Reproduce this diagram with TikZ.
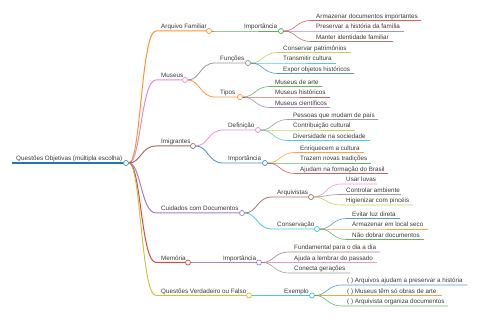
\documentclass[tikz,border=0pt]{standalone}
\usepackage{fontspec}
\setmainfont{Liberation Sans}
\definecolor{cA}{HTML}{1F77B4}
\definecolor{cB}{HTML}{FF7F0E}
\definecolor{cC}{HTML}{2CA02C}
\definecolor{cD}{HTML}{D62728}
\definecolor{cE}{HTML}{9467BD}
\definecolor{cF}{HTML}{8C564B}
\definecolor{cG}{HTML}{E377C2}
\definecolor{cH}{HTML}{7F7F7F}
\definecolor{cI}{HTML}{BCBD22}
\definecolor{cJ}{HTML}{17BECF}
\definecolor{txt}{HTML}{3A3A3A}
\tikzset{
  lbl/.style={anchor=base west, inner sep=0pt, text=txt, font=\fontsize{6.3}{7}\selectfont},
  dot/.style={circle, fill=white, line width=0.7pt, minimum size=5pt, inner sep=0pt, draw opacity=0.85},
  leafline/.style={line width=0.6pt, draw opacity=0.75},
  midline/.style={line width=0.8pt, draw opacity=0.8},
  topline/.style={line width=1pt, draw opacity=0.85}
}
% inner node: name, parent, color, startx, y, circlex, width style, text
\newcommand\mminner[8]{%
  \coordinate (#1s) at (#4,#5);
  \node[lbl] (#1t) at (#4+5,#5-2) {#8};
  \node[dot, draw=#3] (#1c) at (#6,#5) {};
  \draw[#3, #7] (#2c) .. controls +(15,0) and +(-15,0) .. (#1s) -- (#1c);
}
% leaf: name, parent, color, startx, y, endx, text
\newcommand\mmleaf[7]{%
  \coordinate (#1s) at (#4,#5);
  \coordinate (#1e) at (#6,#5);
  \node[lbl] (#1t) at (#4+5,#5-2) {#7};
  \draw[#3, leafline] (#2c) .. controls +(15,0) and +(-15,0) .. (#1s) -- (#1e);
}
\begin{document}
\begin{tikzpicture}[x=1pt, y=-1pt]
\useasboundingbox (0,0) rectangle (480,320);
% root
\coordinate (Rs) at (12,163);
\node[lbl] (Rt) at (16,161) {Questões Objetivas (múltipla escolha)};
\node[dot, draw=cA] (Rc) at (126,163) {};
\draw[cA, line width=1.2pt] (Rs) -- (Rc);

% Arquivo Familiar
\mminner{AF}{R}{cB}{156}{31}{209}{topline}{Arquivo Familiar}
\mminner{AFi}{AF}{cC}{239}{31}{281}{midline}{Importância}
\mmleaf{AFa}{AFi}{cD}{311}{20.5}{421}{Armazenar documentos importantes}
\mmleaf{AFb}{AFi}{cE}{311}{31}{404}{Preservar a história da família}
\mmleaf{AFc}{AFi}{cF}{311}{41.5}{393}{Manter identidade familiar}

% Museus
\mminner{MU}{R}{cG}{156}{80}{185}{topline}{Museus}
\mminner{MUf}{MU}{cH}{215}{63}{248}{midline}{Funções}
\mmleaf{MUfa}{MUf}{cI}{278}{52.5}{351}{Conservar patrimônios}
\mmleaf{MUfb}{MUf}{cJ}{278}{63}{336}{Transmitir cultura}
\mmleaf{MUfc}{MUf}{cA}{278}{73.5}{354}{Expor objetos históricos}
\mminner{MUt}{MU}{cB}{215}{97}{240}{midline}{Tipos}
\mmleaf{MUta}{MUt}{cC}{270}{86.5}{322}{Museus de arte}
\mmleaf{MUtb}{MUt}{cD}{270}{97}{330}{Museus históricos}
\mmleaf{MUtc}{MUt}{cE}{270}{107.5}{330}{Museus científicos}

% Imigrantes
\mminner{IM}{R}{cF}{156}{146}{193}{topline}{Imigrantes}
\mminner{IMd}{IM}{cG}{223}{130}{258}{midline}{Definição}
\mmleaf{IMda}{IMd}{cH}{288}{119.5}{378}{Pessoas que mudam de país}
\mmleaf{IMdb}{IMd}{cI}{288}{130}{355}{Contribuição cultural}
\mmleaf{IMdc}{IMd}{cJ}{288}{140.5}{370}{Diversidade na sociedade}
\mminner{IMi}{IM}{cA}{223}{163}{265}{midline}{Importância}
\mmleaf{IMia}{IMi}{cB}{295}{152.5}{364}{Enriquecem a cultura}
\mmleaf{IMib}{IMi}{cC}{295}{163}{371}{Trazem novas tradições}
\mmleaf{IMic}{IMi}{cD}{295}{173.5}{388}{Ajudam na formação do Brasil}

% Cuidados com Documentos
\mminner{CD}{R}{cE}{156}{213}{242}{topline}{Cuidados com Documentos}
\mminner{CDa}{CD}{cF}{272}{197}{311}{midline}{Arquivistas}
\mmleaf{CDaa}{CDa}{cG}{341}{184}{377}{Usar luvas}
\mmleaf{CDab}{CDa}{cH}{341}{194.5}{401}{Controlar ambiente}
\mmleaf{CDac}{CDa}{cI}{341}{205}{413}{Higienizar com pincéis}
\mminner{CDc}{CD}{cJ}{272}{229}{317}{midline}{Conservação}
\mmleaf{CDca}{CDc}{cA}{347}{218.5}{400}{Evitar luz direta}
\mmleaf{CDcb}{CDc}{cB}{347}{229}{428}{Armazenar em local seco}
\mmleaf{CDcc}{CDc}{cC}{347}{239.5}{424}{Não dobrar documentos}

% Memória
\mminner{ME}{R}{cD}{156}{262.5}{188}{topline}{Memória}
\mminner{MEi}{ME}{cE}{218}{262.5}{259}{midline}{Importância}
\mmleaf{MEia}{MEi}{cF}{289}{252}{380}{Fundamental para o dia a dia}
\mmleaf{MEib}{MEi}{cG}{289}{262.5}{377}{Ajuda a lembrar do passado}
\mmleaf{MEic}{MEi}{cH}{289}{273}{350}{Conecta gerações}

% Questões Verdadeiro ou Falso
\mminner{VF}{R}{cI}{156}{295.5}{249}{topline}{Questões Verdadeiro ou Falso}
\mminner{VFe}{VF}{cJ}{279}{295.5}{312}{midline}{Exemplo}
\mmleaf{VFea}{VFe}{cA}{342}{285}{467}{( ) Arquivos ajudam a preservar a história}
\mmleaf{VFeb}{VFe}{cB}{342}{295.5}{442}{( ) Museus têm só obras de arte}
\mmleaf{VFec}{VFe}{cC}{342}{306}{448}{( ) Arquivista organiza documentos}
\end{tikzpicture}
\end{document}
